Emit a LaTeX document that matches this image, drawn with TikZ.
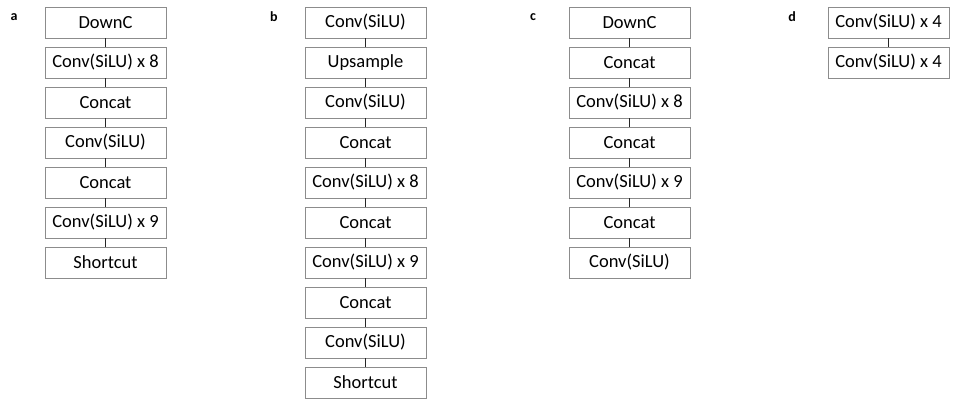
\documentclass[tikz,border=0pt]{standalone}
\usepackage{fontspec}
\setmainfont{Carlito}
\usepackage{tikz}
\definecolor{boxgray}{HTML}{8C8C8C}
\tikzstyle{block} = [draw=boxgray, line width=0.9pt, fill=white, rectangle, minimum width=121pt, minimum height=31pt, inner sep=0pt, font={\fontsize{18.5}{21}\selectfont}]
\tikzstyle{link} = [draw=black!85, line width=1pt]
\tikzstyle{panel} = [font={\fontsize{14}{16}\selectfont\bfseries}, inner sep=0pt]

\begin{document}
\begin{tikzpicture}[x=1pt,y=-1pt]
    \useasboundingbox (0,0) rectangle (953,399);
    % a
    \node[panel](la) at (14,17){a};
    \node[block](a0) at (105.5,22.5){DownC};
    \node[block](a1) at (105.5,62.5){Conv(SiLU) x 8};
    \node[block](a2) at (105.5,102.5){Concat};
    \node[block](a3) at (105.5,142.5){Conv(SiLU)};
    \node[block](a4) at (105.5,182.5){Concat};
    \node[block](a5) at (105.5,222.5){Conv(SiLU) x 9};
    \node[block](a6) at (105.5,262.5){Shortcut};
    \draw[link](a0)--(a1);
    \draw[link](a1)--(a2);
    \draw[link](a2)--(a3);
    \draw[link](a3)--(a4);
    \draw[link](a4)--(a5);
    \draw[link](a5)--(a6);
    % b
    \node[panel](lb) at (274,17){b};
    \node[block](b0) at (365.5,22.5){Conv(SiLU)};
    \node[block](b1) at (365.5,62.5){Upsample};
    \node[block](b2) at (365.5,102.5){Conv(SiLU)};
    \node[block](b3) at (365.5,142.5){Concat};
    \node[block](b4) at (365.5,182.5){Conv(SiLU) x 8};
    \node[block](b5) at (365.5,222.5){Concat};
    \node[block](b6) at (365.5,262.5){Conv(SiLU) x 9};
    \node[block](b7) at (365.5,302.5){Concat};
    \node[block](b8) at (365.5,342.5){Conv(SiLU)};
    \node[block](b9) at (365.5,382.5){Shortcut};
    \draw[link](b0)--(b1);
    \draw[link](b1)--(b2);
    \draw[link](b2)--(b3);
    \draw[link](b3)--(b4);
    \draw[link](b4)--(b5);
    \draw[link](b5)--(b6);
    \draw[link](b6)--(b7);
    \draw[link](b7)--(b8);
    \draw[link](b8)--(b9);
    % c
    \node[panel](lc) at (533,17){c};
    \node[block](c0) at (629.5,22.5){DownC};
    \node[block](c1) at (629.5,62.5){Concat};
    \node[block](c2) at (629.5,102.5){Conv(SiLU) x 8};
    \node[block](c3) at (629.5,142.5){Concat};
    \node[block](c4) at (629.5,182.5){Conv(SiLU) x 9};
    \node[block](c5) at (629.5,222.5){Concat};
    \node[block](c6) at (629.5,262.5){Conv(SiLU)};
    \draw[link](c0)--(c1);
    \draw[link](c1)--(c2);
    \draw[link](c2)--(c3);
    \draw[link](c3)--(c4);
    \draw[link](c4)--(c5);
    \draw[link](c5)--(c6);
    % d
    \node[panel](ld) at (792,17){d};
    \node[block](d0) at (888.5,22.5){Conv(SiLU) x 4};
    \node[block](d1) at (888.5,62.5){Conv(SiLU) x 4};
    \draw[link](d0)--(d1);
\end{tikzpicture}
\end{document}
